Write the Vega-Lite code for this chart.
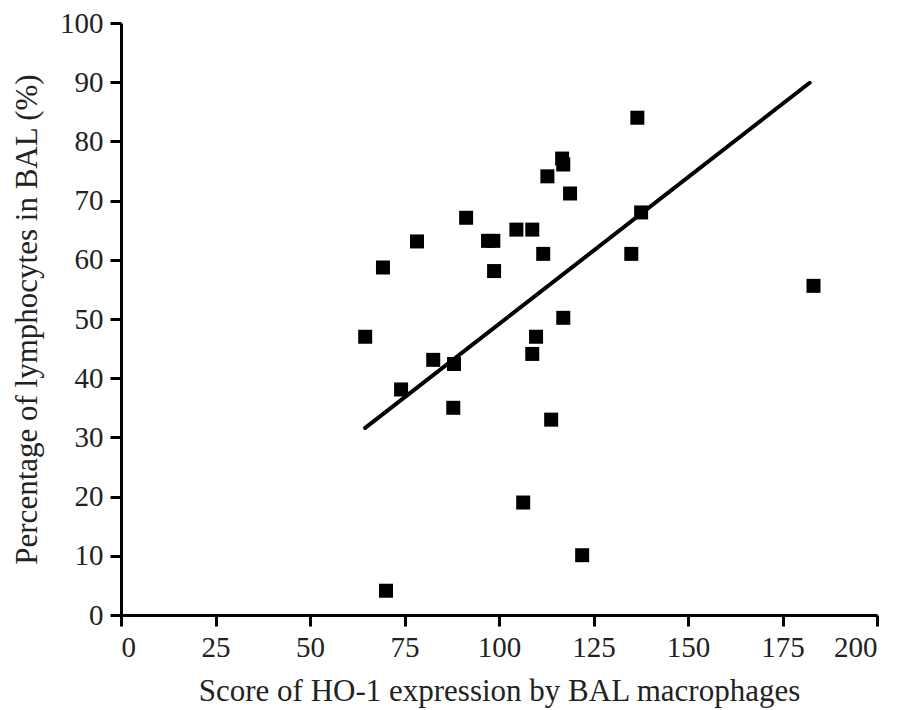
{
  "$schema": "https://vega.github.io/schema/vega-lite/v6.json",
  "width": 756,
  "height": 592,
  "autosize": {"type": "none"},
  "padding": {"left": 121, "top": 23, "right": 27, "bottom": 95},
  "background": "white",
  "config": {
    "view": {"stroke": null},
    "font": "Liberation Serif",
    "axis": {
      "grid": false,
      "domainColor": "black",
      "domainWidth": 3,
      "tickColor": "black",
      "tickWidth": 3,
      "tickSize": 11,
      "labelFont": "Liberation Serif",
      "labelFontSize": 29,
      "labelColor": "#222",
      "titleFont": "Liberation Serif",
      "titleFontSize": 31,
      "titleFontWeight": "normal",
      "titleColor": "#222"
    }
  },
  "datasets": {
    "points": [
      {"score": 64.6, "pct": 47.0},
      {"score": 69.3, "pct": 58.7},
      {"score": 70.1, "pct": 4.1},
      {"score": 74.1, "pct": 38.1},
      {"score": 78.3, "pct": 63.1},
      {"score": 82.6, "pct": 43.1},
      {"score": 87.9, "pct": 35.0},
      {"score": 88.1, "pct": 42.4},
      {"score": 91.3, "pct": 67.1},
      {"score": 97.1, "pct": 63.2},
      {"score": 98.5, "pct": 63.2},
      {"score": 98.7, "pct": 58.1},
      {"score": 104.6, "pct": 65.1},
      {"score": 106.4, "pct": 19.0},
      {"score": 108.8, "pct": 65.1},
      {"score": 108.8, "pct": 44.1},
      {"score": 109.8, "pct": 47.0},
      {"score": 111.7, "pct": 61.0},
      {"score": 112.8, "pct": 74.1},
      {"score": 113.8, "pct": 33.0},
      {"score": 116.7, "pct": 77.1},
      {"score": 117.0, "pct": 76.1},
      {"score": 117.0, "pct": 50.2},
      {"score": 118.8, "pct": 71.2},
      {"score": 122.0, "pct": 10.1},
      {"score": 135.0, "pct": 61.0},
      {"score": 136.6, "pct": 84.0},
      {"score": 137.6, "pct": 68.0},
      {"score": 183.2, "pct": 55.6}
    ],
    "fit": [
      {"score": 64.6, "pct": 31.6},
      {"score": 182.2, "pct": 89.9}
    ]
  },
  "layer": [
    {
      "data": {"name": "fit"},
      "mark": {"type": "line", "color": "black", "strokeWidth": 4, "strokeCap": "round"},
      "encoding": {
        "x": {"field": "score", "type": "quantitative"},
        "y": {"field": "pct", "type": "quantitative"}
      }
    },
    {
      "data": {"name": "points"},
      "mark": {"type": "point", "shape": "square", "filled": true, "color": "black", "size": 196, "opacity": 1},
      "encoding": {
        "x": {
          "field": "score",
          "type": "quantitative",
          "scale": {"domain": [0, 200], "nice": false, "zero": true},
          "axis": {
            "values": [0, 25, 50, 75, 100, 125, 150, 175, 200],
            "title": "Score of HO-1 expression by BAL macrophages",
            "labelPadding": 7,
            "titlePadding": 14
          }
        },
        "y": {
          "field": "pct",
          "type": "quantitative",
          "scale": {"domain": [0, 100], "nice": false},
          "axis": {
            "values": [0, 10, 20, 30, 40, 50, 60, 70, 80, 90, 100],
            "title": "Percentage of lymphocytes in BAL (%)",
            "labelPadding": 7,
            "titlePadding": 16
          }
        }
      }
    }
  ]
}
